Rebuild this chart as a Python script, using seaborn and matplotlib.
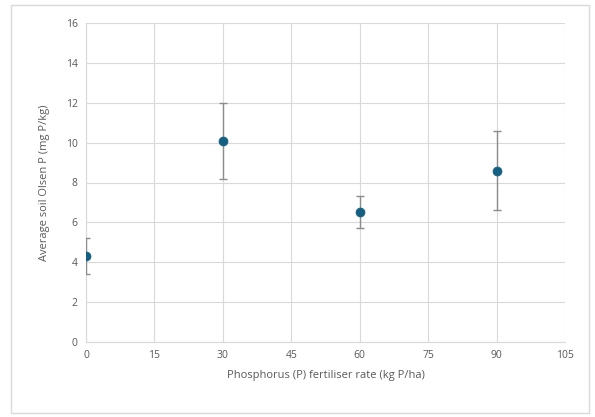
import matplotlib
matplotlib.use("Agg")
import matplotlib.pyplot as plt
import seaborn as sns
import pandas as pd
from matplotlib.patches import Rectangle

rate = [0, 30, 60, 90]
olsen_p = [4.3, 10.1, 6.5, 8.6]
err = [0.9, 1.9, 0.8, 2.0]
x_ticks = [0, 15, 30, 45, 60, 75, 90, 105]
y_ticks = [0, 2, 4, 6, 8, 10, 12, 14, 16]

df = pd.DataFrame({"rate": rate, "p": olsen_p, "err": err})

sns.set_theme(style="white")
plt.rcParams['font.family'] = ['Open Sans', 'DejaVu Sans']

fig = plt.figure(figsize=(5.95, 4.17), dpi=100)
fig.patches.append(Rectangle((11/595, 1-413/417), (589-11)/595, (413-5)/417,
                             transform=fig.transFigure, fill=False,
                             edgecolor="#d9d9d9", linewidth=1.0))
ax = fig.add_axes([86/595, 1-342/417, (565-86)/595, (342-23)/417])

ax.errorbar(df["rate"], df["p"], yerr=df["err"], fmt="none",
            ecolor="#8c8c8c", elinewidth=1.0, capsize=3, capthick=1.0, zorder=3)
sns.scatterplot(data=df, x="rate", y="p", ax=ax, color="#156082",
                s=42, edgecolor="#156082", linewidth=0.5, zorder=4, legend=False)

ax.set_xlim(0, 105)
ax.set_ylim(0, 16)
ax.set_xticks(x_ticks)
ax.set_yticks(y_ticks)
ax.grid(True, color="#d9d9d9", linewidth=0.8)
ax.set_axisbelow(True)
for s in ["top", "right"]:
    ax.spines[s].set_visible(False)
for s in ["left", "bottom"]:
    ax.spines[s].set_color("#d9d9d9")
    ax.spines[s].set_linewidth(0.8)
ax.tick_params(axis="both", length=0, labelsize=7.5, colors="#595959", pad=6)
ax.set_xlabel("Phosphorus (P) fertiliser rate (kg P/ha)", fontsize=8, color="#595959", labelpad=6)
ax.set_ylabel("Average soil Olsen P (mg P/kg)", fontsize=8, color="#595959", labelpad=11)

fig.savefig("out.png", dpi=100)
